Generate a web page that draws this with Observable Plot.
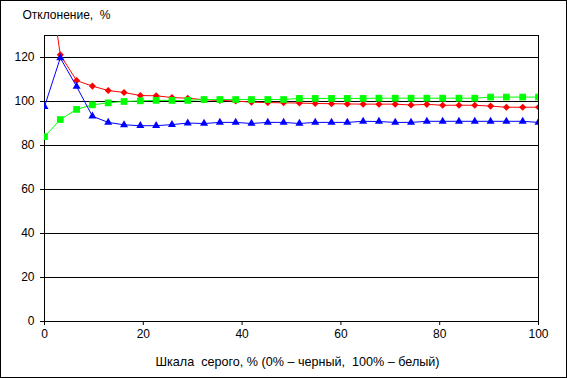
<!DOCTYPE html>
<html><head><meta charset="utf-8">
<script src="https://cdn.jsdelivr.net/npm/d3@7"></script>
<script src="https://cdn.jsdelivr.net/npm/@observablehq/plot@0.6"></script>
<style>
body{margin:0;background:#fff}
#chart svg{display:block;outline:1px solid #000;outline-offset:-1px}
</style>
</head><body><div id="chart"></div><script>
const grayScale = [0, 3.2, 6.5, 9.7, 12.9, 16.1, 19.4, 22.6, 25.8, 29.0, 32.3, 35.5, 38.7, 41.9, 45.2, 48.4, 51.6, 54.8, 58.1, 61.3, 64.5, 67.7, 71.0, 74.2, 77.4, 80.6, 83.9, 87.1, 90.3, 93.5, 96.8, 100];
const redSeries = [170, 121.2, 109.5, 107, 105, 104.1, 102.7, 102.6, 101.8, 101.5, 100.8, 100.5, 100.2, 99.7, 99.5, 99.4, 99.3, 99.1, 99, 98.9, 98.8, 98.8, 98.8, 98.4, 98.7, 98.3, 98.3, 98.3, 97.9, 97.4, 97.4, 97.4];
const greenSeries = [84, 91.8, 96.4, 98.5, 99.4, 100, 100.3, 100.5, 100.5, 100.5, 100.9, 100.9, 100.9, 100.9, 100.9, 100.9, 101.4, 101.4, 101.4, 101.4, 101.4, 101.5, 101.5, 101.5, 101.5, 101.5, 101.5, 101.5, 102, 102, 102, 102];
const blueSeries = [97.7, 119.8, 106.8, 93.3, 90.5, 89.4, 89, 89, 89.5, 90.2, 90, 90.5, 90.5, 90, 90.5, 90.5, 90, 90.5, 90.5, 90.5, 91, 90.9, 90.5, 90.5, 91, 91, 91, 91, 91, 91, 91, 90.5];
const xTicks = [0, 20, 40, 60, 80, 100];
const yTicks = [0, 20, 40, 60, 80, 100, 120];
const yTitle = "Отклонение,  %";
const xTitle = "Шкала  серого, % (0% – черный,  100% – белый)";

const mk = (ys) => grayScale.map((x, i) => ({x, y: ys[i]}));
const red = mk(redSeries), green = mk(greenSeries), blue = mk(blueSeries);

const chart = Plot.plot({
  width: 567, height: 378,
  marginLeft: 44, marginRight: 29, marginTop: 35, marginBottom: 57,
  style: {fontFamily: "'Liberation Sans', Arial, sans-serif", fontSize: "12px", color: "#000", background: "#fff", whiteSpace: "pre"},
  x: {domain: [0, 100]},
  y: {domain: [0, 130]},
  marks: [
    Plot.gridY(yTicks, {stroke: "#000", strokeOpacity: 1}),
    Plot.frame({stroke: "#000"}),
    Plot.axisX(xTicks, {tickSize: 4, tickPadding: 4, label: null, stroke: "#000"}),
    Plot.axisY(yTicks, {tickSize: 4, tickPadding: 6, label: null, stroke: "#000"}),
    Plot.line(red, {x: "x", y: "y", stroke: "#ff0000", strokeWidth: 1, clip: true}),
    Plot.dot(red, {x: "x", y: "y", symbol: "diamond2", fill: "#ff0000", stroke: null, r: 3.2, clip: true}),
    Plot.line(green, {x: "x", y: "y", stroke: "#00ff00", strokeWidth: 1, clip: true}),
    Plot.dot(green, {x: "x", y: "y", symbol: "square", fill: "#00ff00", stroke: null, r: 3.8, clip: true}),
    Plot.line(blue, {x: "x", y: "y", stroke: "#0000ff", strokeWidth: 1, clip: true}),
    Plot.dot(blue, {x: "x", y: "y", symbol: "triangle", fill: "#0000ff", stroke: null, r: 3, clip: true}),
    Plot.text([yTitle], {frameAnchor: "top-left", dx: -22, dy: -20, text: d => d, textAnchor: "start", lineAnchor: "middle", fill: "#000"}),
    Plot.text([xTitle], {frameAnchor: "bottom", dx: 6, dy: 40, text: d => d, textAnchor: "middle", lineAnchor: "middle", fill: "#000", fontSize: 12.6})
  ]
});
document.getElementById("chart").append(chart);
</script></body></html>
